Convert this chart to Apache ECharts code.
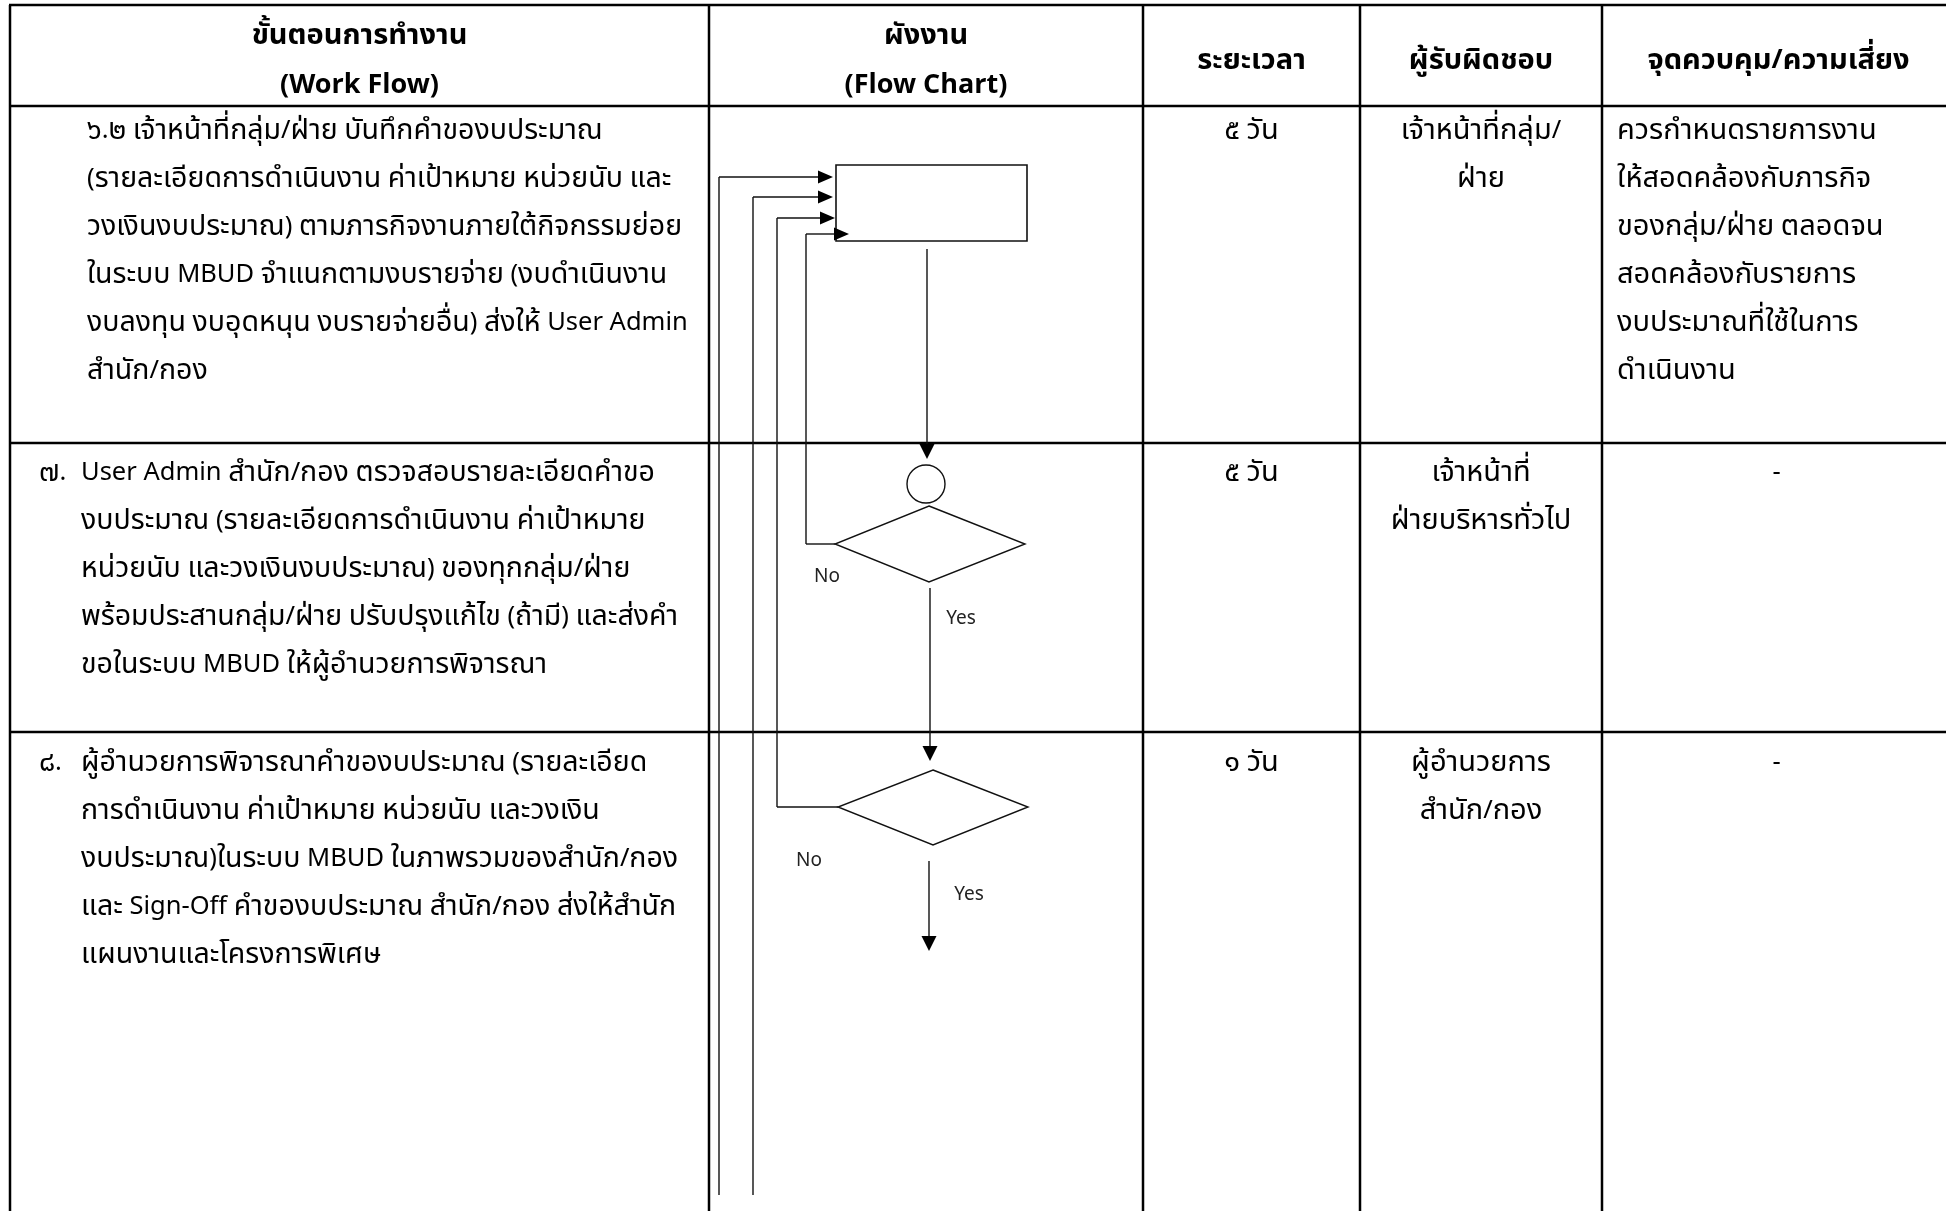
<!DOCTYPE html>
<html><head><meta charset="utf-8">
<script src="https://cdn.jsdelivr.net/npm/echarts@6/dist/echarts.min.js"></script>
<style>html,body{margin:0;padding:0;background:#fff}#c{width:1946px;height:1211px}</style>
</head><body><div id="c"></div><script>
// ---------- content (text data) ----------
const headerTitles = [['ขั้นตอนการทำงาน', '(Work Flow)'], ['ผังงาน', '(Flow Chart)'], ['ระยะเวลา'], ['ผู้รับผิดชอบ'], ['จุดควบคุม/ความเสี่ยง']];
const stepNumbers = ['', '๗.', '๘.'];
const stepLines = [
  ['๖.๒ เจ้าหน้าที่กลุ่ม/ฝ่าย บันทึกคำของบประมาณ', '(รายละเอียดการดำเนินงาน ค่าเป้าหมาย หน่วยนับ และ', 'วงเงินงบประมาณ) ตามภารกิจงานภายใต้กิจกรรมย่อย', 'ในระบบ MBUD จำแนกตามงบรายจ่าย (งบดำเนินงาน', 'งบลงทุน งบอุดหนุน งบรายจ่ายอื่น) ส่งให้ User Admin', 'สำนัก/กอง'],
  ['User Admin สำนัก/กอง ตรวจสอบรายละเอียดคำขอ', 'งบประมาณ (รายละเอียดการดำเนินงาน ค่าเป้าหมาย', 'หน่วยนับ และวงเงินงบประมาณ) ของทุกกลุ่ม/ฝ่าย', 'พร้อมประสานกลุ่ม/ฝ่าย ปรับปรุงแก้ไข (ถ้ามี) และส่งคำ', 'ขอในระบบ MBUD ให้ผู้อำนวยการพิจารณา'],
  ['ผู้อำนวยการพิจารณาคำของบประมาณ (รายละเอียด', 'การดำเนินงาน ค่าเป้าหมาย หน่วยนับ และวงเงิน', 'งบประมาณ)ในระบบ MBUD ในภาพรวมของสำนัก/กอง', 'และ Sign-Off คำของบประมาณ สำนัก/กอง ส่งให้สำนัก', 'แผนงานและโครงการพิเศษ']
];
const durations = ['๕ วัน', '๕ วัน', '๑ วัน'];
const responsible = [['เจ้าหน้าที่กลุ่ม/', 'ฝ่าย'], ['เจ้าหน้าที่', 'ฝ่ายบริหารทั่วไป'], ['ผู้อำนวยการ', 'สำนัก/กอง']];
const controls = [['ควรกำหนดรายการงาน', 'ให้สอดคล้องกับภารกิจ', 'ของกลุ่ม/ฝ่าย ตลอดจน', 'สอดคล้องกับรายการ', 'งบประมาณที่ใช้ในการ', 'ดำเนินงาน'], ['-'], ['-']];
const decisionLabels = ['No', 'Yes'];

// ---------- layout ----------
const FONT = '"Noto Sans Thai","Noto Sans","Open Sans",sans-serif';
const colX = [10, 709, 1143, 1360, 1602, 1955];
const rowY = [5, 106, 443, 732, 1220];
const rowTextY = [133, 475, 765];
const lineGap = 48;
const textX = [87, 81, 81], numX = 39;
const els = [];
function L(x1, y1, x2, y2, w, c) { els.push({ k: 'line', p: [[x1, y1], [x2, y2]], w: w, c: c || '#000' }); }
function P(pts, fill, stroke, w) { els.push({ k: 'poly', p: pts, fill: fill, stroke: stroke, w: w || 0 }); }
function T(x, y, text, opt) { els.push(Object.assign({ k: 'text', p: [[x, y]], text: text, weight: 'normal', align: 'left', color: '#000', th: 28.5, la: 25.5 }, opt || {})); }
function arrowDown(x, y1, tip) { L(x, y1, x, tip - 14, 1.4, '#111'); P([[x - 7.5, tip - 15], [x + 7.5, tip - 15], [x, tip]], '#000'); }
function arrowRight(tip, y) { P([[tip - 15, y - 6.5], [tip - 15, y + 6.5], [tip, y]], '#000'); }

// table grid
for (let i = 0; i < 4; i++) L(colX[0] - 1, rowY[i], colX[5], rowY[i], 2.5);
for (let j = 0; j < 5; j++) L(colX[j], rowY[0], colX[j], rowY[4], 2.5);

// headers
const hc = j => (colX[j] + colX[j + 1]) / 2;
const hopt = { weight: 'bold', align: 'center', th: 29, la: 27 };
headerTitles.forEach((h, j) => {
  if (h.length === 2) { T(hc(j), 38, h[0], hopt); T(hc(j), 88, h[1], hopt); }
  else T(hc(j), 63, h[0], hopt);
});

// rows
stepLines.forEach((lines, r) => {
  if (stepNumbers[r]) T(numX, rowTextY[r], stepNumbers[r]);
  lines.forEach((s, i) => T(textX[r], rowTextY[r] + i * lineGap, s));
  T(hc(2), rowTextY[r], durations[r], { align: 'center', th: 29 });
  responsible[r].forEach((s, i) => T(hc(3), rowTextY[r] + i * lineGap, s, { align: 'center', th: 29 }));
  if (controls[r].length === 1) T(hc(4) - 2, rowTextY[r], controls[r][0], { align: 'center' });
  else controls[r].forEach((s, i) => T(1617, rowTextY[r] + i * lineGap, s, { th: 29 }));
});

// flow chart
P([[836, 165], [1027, 165], [1027, 241], [836, 241]], '#fff', '#111', 1.6);
[[719, 177, 833, 1195], [753, 197, 833, 1195], [777, 218, 835, 807], [806, 234, 849, 544]].forEach(a => {
  L(a[0], a[1], a[2] - 14, a[1], 1.4, '#111');
  arrowRight(a[2], a[1]);
  L(a[0], a[1], a[0], a[3], 1.4, '#111');
});
arrowDown(927, 249, 459);
els.push({ k: 'circle', p: [[926, 484]], r: 19 });
P([[929, 506], [1025, 544], [929, 582], [835, 544]], 'none', '#111', 1.4);
L(806, 544, 835, 544, 1.4, '#111');
const lab = { size: 19, align: 'center', color: '#222', plain: true };
T(827, 578, decisionLabels[0], lab);
arrowDown(930, 588, 761);
T(961, 620, decisionLabels[1], lab);
P([[933, 770], [1028, 807], [933, 845], [838, 807]], 'none', '#111', 1.4);
L(777, 807, 838, 807, 1.4, '#111');
T(809, 862, decisionLabels[0], lab);
arrowDown(929, 861, 951);
T(969, 896, decisionLabels[1], lab);

// split a string into Thai / non-Thai runs for rich text
function toRich(s) {
  return s.split(/([\u0E00-\u0E7F]+)/).filter(x => x.length).map(seg =>
    (/[\u0E00-\u0E7F]/.test(seg) ? '{t|' : '{l|') + seg + '}').join('');
}

// ---------- chart ----------
const chart = echarts.init(document.getElementById('c'), null, { renderer: 'canvas' });
chart.setOption({
  animation: false,
  backgroundColor: '#fff',
  grid: { left: 0, right: 0, top: 0, bottom: 0 },
  xAxis: { type: 'value', min: 0, max: 1946, show: false },
  yAxis: { type: 'value', min: 0, max: 1211, inverse: true, show: false },
  series: [{
    type: 'custom', coordinateSystem: 'cartesian2d', clip: false, silent: true,
    data: els.map(e => [e.p[0][0], e.p[0][1]]),
    renderItem: function (params, api) {
      const e = els[params.dataIndex];
      const pts = e.p.map(q => api.coord(q));
      if (e.k === 'line') return { type: 'line', shape: { x1: pts[0][0], y1: pts[0][1], x2: pts[1][0], y2: pts[1][1] }, style: { stroke: e.c, lineWidth: e.w } };
      if (e.k === 'poly') return { type: 'polygon', shape: { points: pts }, style: { fill: e.fill, stroke: e.stroke || null, lineWidth: e.w } };
      if (e.k === 'circle') { const r = api.size([e.r, e.r])[0]; return { type: 'circle', shape: { cx: pts[0][0], cy: pts[0][1], r: r }, style: { fill: '#fff', stroke: '#111', lineWidth: 1.4 } }; }
      if (e.k === 'text') {
        if (e.plain) return { type: 'text', style: { text: e.text, x: pts[0][0], y: pts[0][1], fill: e.color, font: e.size + 'px ' + FONT, align: e.align, verticalAlign: 'middle' } };
        return { type: 'text', style: {
          text: toRich(e.text), x: pts[0][0], y: pts[0][1], fill: e.color, align: e.align, verticalAlign: 'middle',
          fontFamily: FONT, fontWeight: e.weight, fontSize: e.th,
          rich: {
            t: { fontFamily: FONT, fontSize: e.th, fontWeight: e.weight, fill: e.color, lineHeight: 40 },
            l: { fontFamily: FONT, fontSize: e.la, fontWeight: e.weight, fill: e.color, lineHeight: 40 }
          } } };
      }
    }
  }]
});
</script></body></html>
